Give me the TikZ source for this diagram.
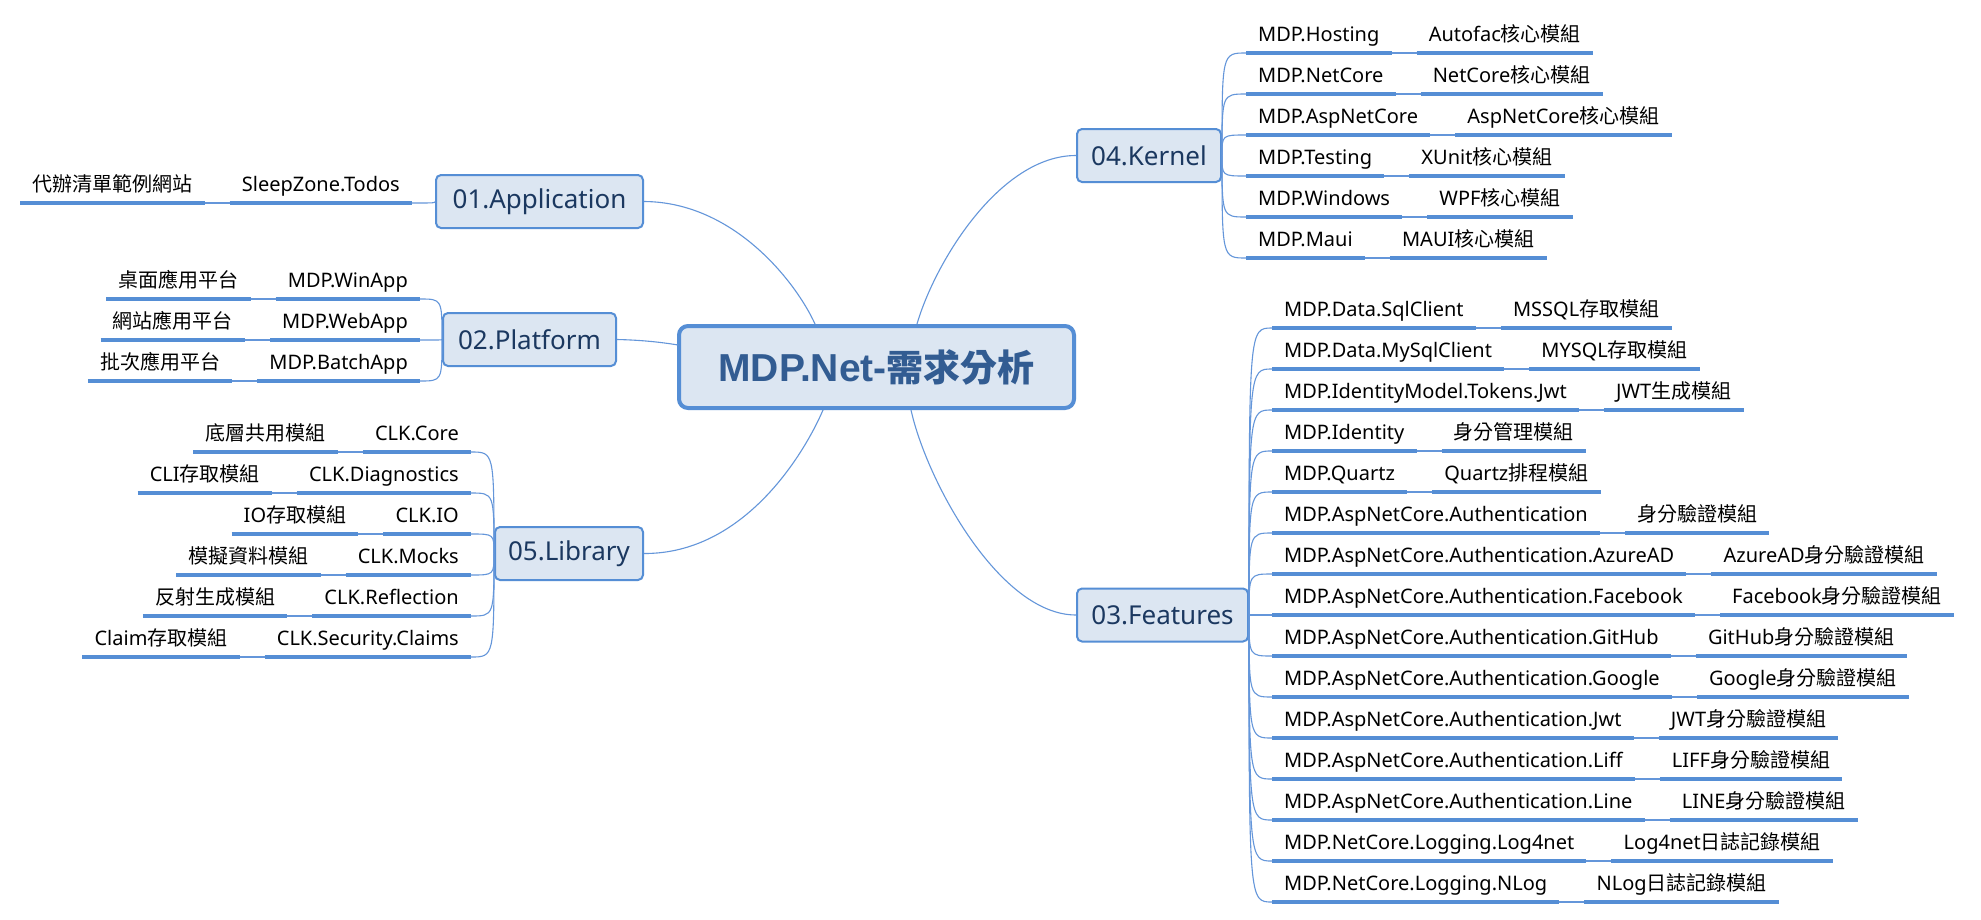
\documentclass[tikz,border=0pt]{standalone}
\usepackage{fontspec}
\setmainfont{Noto Sans}
\newfontfamily\cjk{Noto Sans CJK TC}
\newfontfamily\latbold{Liberation Sans}
\newcommand\zh[1]{{\cjk #1}}
\definecolor{bblue}{RGB}{85,142,213}
\definecolor{cblue}{RGB}{100,150,218}
\definecolor{tfill}{RGB}{220,230,242}
\definecolor{tnavy}{RGB}{27,56,96}
\definecolor{ctext}{RGB}{50,92,146}
\tikzset{
  uline/.style={draw=bblue, line width=3.2pt},
  conn/.style={draw=cblue, line width=1.1pt},
  leaf/.style={inner xsep=12pt, inner ysep=0pt, text height=15pt, text depth=11pt,
    font=\fontsize{20}{24}\selectfont, text=black,
    append after command={(\tikzlastnode.south west) edge[uline] (\tikzlastnode.south east)}},
  topic/.style={draw=bblue, fill=tfill, line width=2pt, rounded corners=5pt,
    font=\fontsize{26}{30}\selectfont, text=tnavy, minimum height=53pt, inner xsep=0pt, inner ysep=0pt},
  central/.style={draw=bblue, fill=tfill, line width=4pt, rounded corners=9pt,
    font=\fontsize{37}{42}\selectfont\bfseries, text=ctext, minimum width=395pt, minimum height=82pt, inner sep=0pt}
}
% right-side leaf pair: name, parent, x, y, text, subtext
\newcommand\RLeaf[6]{%
  \node[leaf,anchor=south west] (#1) at (#3,#4) {#5};
  \node[leaf,anchor=south west] (#1b) at ([xshift=25pt]#1.south east) {#6};
  \draw[conn] (#1.south east) -- (#1b.south west);
  \draw[conn] (#2.east) .. controls (#2.east |- #1.south west) and (#2.east |- #1.south west) .. (#1.south west);
}
% left-side leaf pair
\newcommand\LLeaf[6]{%
  \node[leaf,anchor=south east] (#1) at (#3,#4) {#5};
  \node[leaf,anchor=south east] (#1b) at ([xshift=-25pt]#1.south west) {#6};
  \draw[conn] (#1.south west) -- (#1b.south east);
  \draw[conn] (#2.west) .. controls (#2.west |- #1.south east) and (#2.west |- #1.south east) .. (#1.south east);
}
\begin{document}
\begin{tikzpicture}[x=1pt,y=-1pt]
\useasboundingbox (0,0) rectangle (1981,919);
\fill[white] (0,0) rectangle (1981,919);

% topics
\node[central] (c) at (876.5,367) {{\latbold\fontsize{39}{42}\selectfont MDP.Net-}\zh{需求分析}};
\node[topic, minimum width=207pt] (app) at (539.5,201.5) {01.Application};
\node[topic, minimum width=173pt] (plat) at (529.5,339.5) {02.Platform};
\node[topic, minimum width=148pt] (lib) at (569,553.5) {05.Library};
\node[topic, minimum width=144pt] (kern) at (1149,155.5) {04.Kernel};
\node[topic, minimum width=171pt] (feat) at (1162.5,615) {03.Features};

% central connectors
\coordinate (cApp) at (815,324);
\coordinate (cPlat) at (678,345);
\coordinate (cLib) at (823,410);
\coordinate (cKern) at (917,324);
\coordinate (cFeat) at (911,410);
\draw[conn] (app.east) .. controls (735,202) and (797,284) .. (cApp);
\draw[conn] (plat.east) .. controls (640,340) and (660,342) .. (cPlat);
\draw[conn] (lib.east) .. controls (745,554) and (805,452) .. (cLib);
\draw[conn] (cKern) .. controls (935,262) and (1000,155.5) .. (kern.west);
\draw[conn] (cFeat) .. controls (927,482) and (1000,615) .. (feat.west);

% application
\LLeaf{a1}{app}{412}{203}{SleepZone.Todos}{\zh{代辦清單範例網站}}

% platform
\LLeaf{p1}{plat}{420}{299}{MDP.WinApp}{\zh{桌面應用平台}}
\LLeaf{p2}{plat}{420}{340}{MDP.WebApp}{\zh{網站應用平台}}
\LLeaf{p3}{plat}{420}{381}{MDP.BatchApp}{\zh{批次應用平台}}

% library
\LLeaf{l1}{lib}{471}{452}{CLK.Core}{\zh{底層共用模組}}
\LLeaf{l2}{lib}{471}{493}{CLK.Diagnostics}{CLI\zh{存取模組}}
\LLeaf{l3}{lib}{471}{534}{CLK.IO}{IO\zh{存取模組}}
\LLeaf{l4}{lib}{471}{575}{CLK.Mocks}{\zh{模擬資料模組}}
\LLeaf{l5}{lib}{471}{616}{CLK.Reflection}{\zh{反射生成模組}}
\LLeaf{l6}{lib}{471}{657}{CLK.Security.Claims}{Claim\zh{存取模組}}

% kernel
\RLeaf{k1}{kern}{1246}{53}{MDP.Hosting}{Autofac\zh{核心模組}}
\RLeaf{k2}{kern}{1246}{94}{MDP.NetCore}{NetCore\zh{核心模組}}
\RLeaf{k3}{kern}{1246}{135}{MDP.AspNetCore}{AspNetCore\zh{核心模組}}
\RLeaf{k4}{kern}{1246}{176}{MDP.Testing}{XUnit\zh{核心模組}}
\RLeaf{k5}{kern}{1246}{217}{MDP.Windows}{WPF\zh{核心模組}}
\RLeaf{k6}{kern}{1246}{258}{MDP.Maui}{MAUI\zh{核心模組}}

% features
\RLeaf{f1}{feat}{1272}{328}{MDP.Data.SqlClient}{MSSQL\zh{存取模組}}
\RLeaf{f2}{feat}{1272}{369}{MDP.Data.MySqlClient}{MYSQL\zh{存取模組}}
\RLeaf{f3}{feat}{1272}{410}{MDP.IdentityModel.Tokens.Jwt}{JWT\zh{生成模組}}
\RLeaf{f4}{feat}{1272}{451}{MDP.Identity}{\zh{身分管理模組}}
\RLeaf{f5}{feat}{1272}{492}{MDP.Quartz}{Quartz\zh{排程模組}}
\RLeaf{f6}{feat}{1272}{533}{MDP.AspNetCore.Authentication}{\zh{身分驗證模組}}
\RLeaf{f7}{feat}{1272}{574}{MDP.AspNetCore.Authentication.AzureAD}{AzureAD\zh{身分驗證模組}}
\RLeaf{f8}{feat}{1272}{615}{MDP.AspNetCore.Authentication.Facebook}{Facebook\zh{身分驗證模組}}
\RLeaf{f9}{feat}{1272}{656}{MDP.AspNetCore.Authentication.GitHub}{GitHub\zh{身分驗證模組}}
\RLeaf{f10}{feat}{1272}{697}{MDP.AspNetCore.Authentication.Google}{Google\zh{身分驗證模組}}
\RLeaf{f11}{feat}{1272}{738}{MDP.AspNetCore.Authentication.Jwt}{JWT\zh{身分驗證模組}}
\RLeaf{f12}{feat}{1272}{779}{MDP.AspNetCore.Authentication.Liff}{LIFF\zh{身分驗證模組}}
\RLeaf{f13}{feat}{1272}{820}{MDP.AspNetCore.Authentication.Line}{LINE\zh{身分驗證模組}}
\RLeaf{f14}{feat}{1272}{861}{MDP.NetCore.Logging.Log4net}{Log4net\zh{日誌記錄模組}}
\RLeaf{f15}{feat}{1272}{902}{MDP.NetCore.Logging.NLog}{NLog\zh{日誌記錄模組}}
\end{tikzpicture}
\end{document}
